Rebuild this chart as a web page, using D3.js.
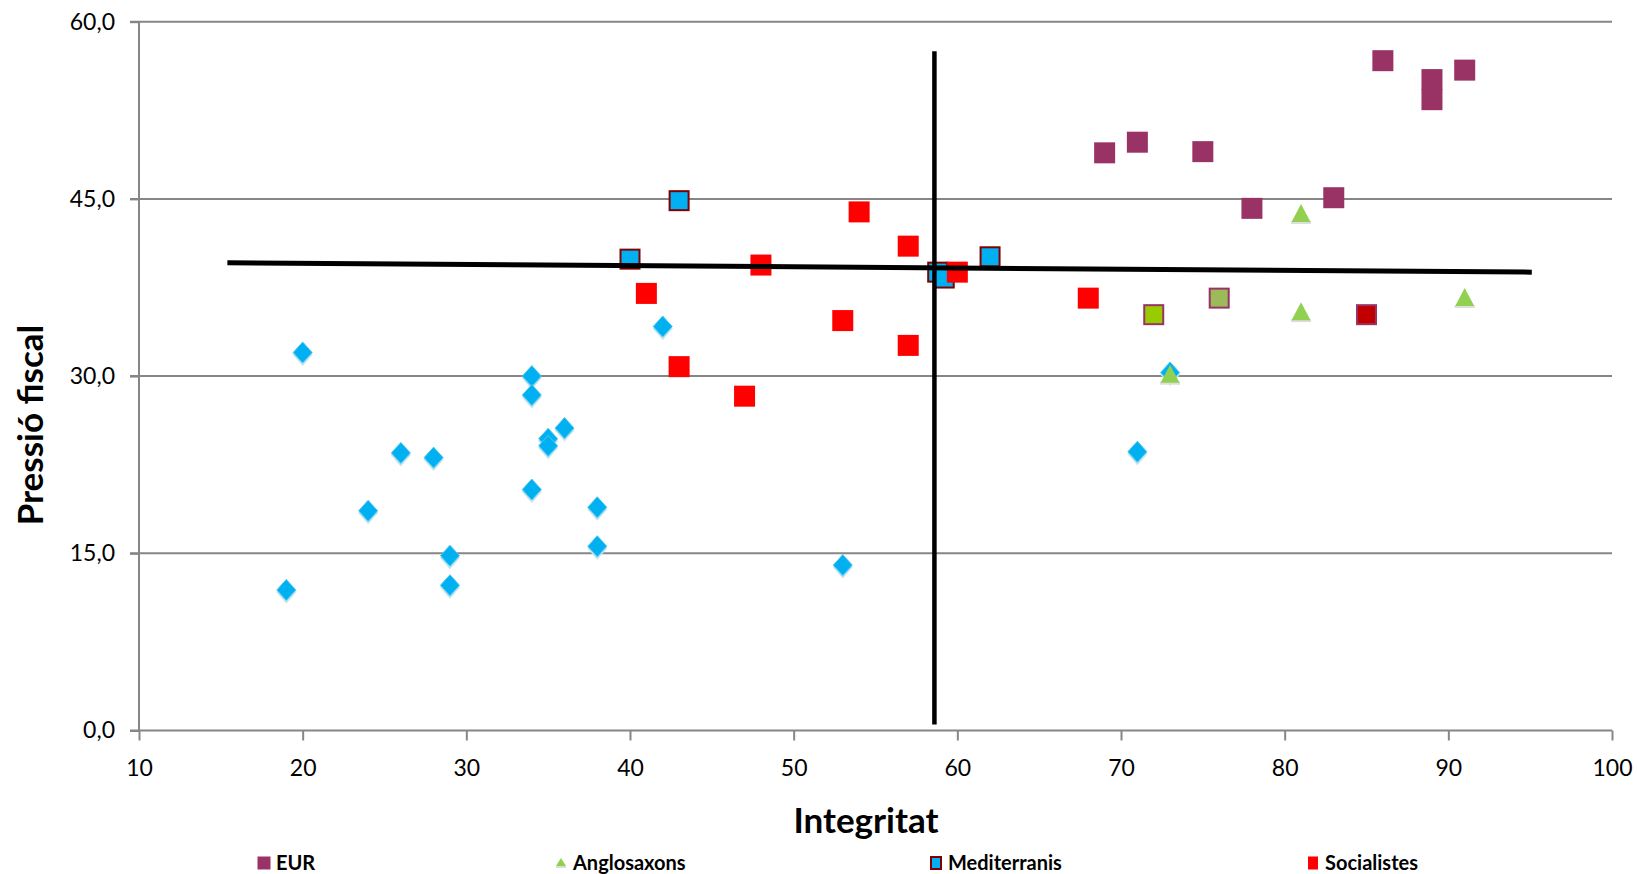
<!DOCTYPE html>
<html>
<head>
<meta charset="utf-8">
<script src="https://cdn.jsdelivr.net/npm/d3@7"></script>
<style>
  html, body { margin: 0; padding: 0; background: #fff; }
  svg { display: block; font-family: Lato, "Open Sans", sans-serif; }
</style>
</head>
<body>
<svg id="chart" width="1637" height="874"></svg>
<script>
// ---- Data ----
const xTicks = [10, 20, 30, 40, 50, 60, 70, 80, 90, 100];
const yTicks = [0, 15, 30, 45, 60];

// unlabeled series (blue diamonds)
const restaX = [19, 20, 24, 26, 28, 29, 29, 34, 34, 34, 35, 35, 36, 38, 38, 42, 53, 71, 73];
const restaY = [11.9, 32.0, 18.6, 23.5, 23.1, 14.8, 12.3, 30.0, 28.4, 20.4, 24.7, 24.1, 25.6, 18.9, 15.6, 34.2, 14.0, 23.6, 30.3];

const eurX = [69, 71, 75, 78, 83, 86, 89, 89, 91];
const eurY = [48.9, 49.8, 49.0, 44.2, 45.1, 56.7, 55.1, 53.4, 55.9];

// EUR points with individually recoloured fill
const eurSpecialX = [72, 76, 85];
const eurSpecialY = [35.2, 36.6, 35.2];

const angloX = [73, 81, 81, 91];
const angloY = [30.2, 35.5, 43.8, 36.7];

const medX = [40, 43, 58.8, 59.2, 62];
const medY = [39.9, 44.85, 38.8, 38.3, 40.1];

const socX = [41, 43, 47, 48, 53, 54, 57, 57, 60, 68];
const socY = [37.0, 30.8, 28.3, 39.4, 34.7, 43.9, 41.0, 32.6, 38.8, 36.6];

const trendX = [15.4, 95.1];
const trendY = [39.6, 38.8];

const vlineX = [58.6, 58.6];
const vlineY = [0.5, 57.5];

const legendLabels = ["EUR", "Anglosaxons", "Mediterranis", "Socialistes"];
const xTitle = "Integritat";
const yTitle = "Pressió fiscal";

// ---- Styles ----
const C = {
  grid: "#868686",
  eur: "#993366",
  anglo: "#92D050",
  med: "#00B0F0",
  medStroke: "#7F0000",
  soc: "#FF0000",
  resta: "#00B0F0",
  special: ["#99CC00", "#9BBB59", "#C00000"]
};

const svg = d3.select("#chart");
const x = d3.scaleLinear().domain([10, 100]).range([139, 1612]);
const y = d3.scaleLinear().domain([0, 60]).range([730.5, 21.7]);
const zip = (a, b) => a.map((v, i) => [v, b[i]]);

// gridlines
svg.append("g").selectAll("line").data(yTicks.filter(d => d > 0)).join("line")
  .attr("x1", x(10) - 9).attr("x2", x(100))
  .attr("y1", d => y(d)).attr("y2", d => y(d))
  .attr("stroke", C.grid).attr("stroke-width", 2);

// y axis
const yAxis = d3.axisLeft(y).tickValues(yTicks)
  .tickFormat(d => d3.format(".1f")(d).replace(".", ","))
  .tickSize(9).tickPadding(15);
const gy = svg.append("g").attr("transform", `translate(${x(10)},0)`).call(yAxis);
gy.select(".domain").attr("stroke", C.grid).attr("stroke-width", 2).attr("d", `M0,${y(60)}V${y(0)}`);
gy.selectAll(".tick line").attr("stroke", C.grid).attr("stroke-width", 2);
gy.selectAll(".tick text").attr("font-size", 23).attr("fill", "#000").attr("font-family", "Lato");

// x axis
const xAxis = d3.axisBottom(x).tickValues(xTicks).tickSize(10).tickPadding(19).tickSizeOuter(0);
const gx = svg.append("g").attr("transform", `translate(0,${y(0)})`).call(xAxis);
gx.select(".domain").attr("stroke", C.grid).attr("stroke-width", 2).attr("d", `M${x(10) - 9},0H${x(100)}`);
gx.selectAll(".tick line").attr("stroke", C.grid).attr("stroke-width", 2);
gx.selectAll(".tick text").attr("font-size", 23).attr("fill", "#000").attr("font-family", "Lato");

// titles
svg.append("text").attr("x", 866).attr("y", 833).attr("text-anchor", "middle")
  .attr("font-size", 35).attr("font-weight", "bold").text(xTitle);
svg.append("text").attr("transform", "translate(43,425) rotate(-90)").attr("text-anchor", "middle")
  .attr("font-size", 35).attr("font-weight", "bold").text(yTitle);

// markers
const S = 21;
const plot = svg.append("g");

// diamonds (with soft shadow)
const diamond = (cx, cy, w, h) => `M${cx},${cy - h}L${cx + w},${cy}L${cx},${cy + h}L${cx - w},${cy}Z`;
plot.append("g").selectAll("path").data(zip(restaX, restaY)).join("path")
  .attr("d", d => diamond(x(d[0]), y(d[1]) + 2, 10, 11.5))
  .attr("fill", "#BFE3EF");
plot.append("g").selectAll("path").data(zip(restaX, restaY)).join("path")
  .attr("d", d => diamond(x(d[0]), y(d[1]), 9.5, 10.5))
  .attr("fill", C.resta).attr("stroke", "#4FC8F2").attr("stroke-width", 1);

// EUR squares
plot.append("g").selectAll("rect").data(zip(eurX, eurY)).join("rect")
  .attr("x", d => x(d[0]) - S / 2).attr("y", d => y(d[1]) - S / 2)
  .attr("width", S).attr("height", S).attr("fill", C.eur);
plot.append("g").selectAll("rect").data(zip(eurSpecialX, eurSpecialY)).join("rect")
  .attr("x", d => x(d[0]) - S / 2 + 1).attr("y", d => y(d[1]) - S / 2 + 1)
  .attr("width", S - 2).attr("height", S - 2)
  .attr("fill", (d, i) => C.special[i]).attr("stroke", C.eur).attr("stroke-width", 2);

// Anglosaxons triangles
const tri = (cx, cy, w, h) => `M${cx},${cy - h / 2}L${cx + w / 2},${cy + h / 2}L${cx - w / 2},${cy + h / 2}Z`;
plot.append("g").selectAll("rect").data(zip(angloX, angloY)).join("rect")
  .attr("x", d => x(d[0]) - 10).attr("y", d => y(d[1]) + 8)
  .attr("width", 20).attr("height", 3).attr("fill", "#DDDDDD");
plot.append("g").selectAll("path").data(zip(angloX, angloY)).join("path")
  .attr("d", d => tri(x(d[0]), y(d[1]), 19, 18))
  .attr("fill", C.anglo);

// Mediterranis squares
plot.append("g").selectAll("rect").data(zip(medX, medY)).join("rect")
  .attr("x", d => x(d[0]) - S / 2 + 1).attr("y", d => y(d[1]) - S / 2 + 1)
  .attr("width", S - 2).attr("height", S - 2)
  .attr("fill", C.med).attr("stroke", C.medStroke).attr("stroke-width", 2);

// Socialistes squares
plot.append("g").selectAll("rect").data(zip(socX, socY)).join("rect")
  .attr("x", d => x(d[0]) - S / 2).attr("y", d => y(d[1]) - S / 2)
  .attr("width", S).attr("height", S).attr("fill", C.soc);

// lines
const line = d3.line().x(d => x(d[0])).y(d => y(d[1]));
plot.append("path").datum(zip(trendX, trendY)).attr("d", line)
  .attr("stroke", "#000").attr("stroke-width", 5).attr("fill", "none");
plot.append("path").datum(zip(vlineX, vlineY)).attr("d", line)
  .attr("stroke", "#000").attr("stroke-width", 4.5).attr("fill", "none");

// legend
const legX = [264, 561, 936, 1313];
const lg = svg.append("g");
const legY = 863;
legendLabels.forEach((lab, i) => {
  const cx = legX[i];
  if (i === 0) {
    lg.append("rect").attr("x", cx - 6.5).attr("y", legY - 6.5).attr("width", 13).attr("height", 13).attr("fill", C.eur);
  } else if (i === 1) {
    lg.append("rect").attr("x", cx - 5).attr("y", legY + 3).attr("width", 10).attr("height", 2).attr("fill", "#DDDDDD");
    lg.append("path").attr("d", tri(cx, legY - 1, 10, 8)).attr("fill", C.anglo);
  } else if (i === 2) {
    lg.append("rect").attr("x", cx - 5).attr("y", legY - 6).attr("width", 10).attr("height", 12)
      .attr("fill", C.med).attr("stroke", C.medStroke).attr("stroke-width", 2);
  } else {
    lg.append("rect").attr("x", cx - 5).attr("y", legY - 6.5).attr("width", 10).attr("height", 13).attr("fill", C.soc);
  }
  lg.append("text").attr("x", cx + 12).attr("y", legY + 7).attr("font-size", 20).attr("font-weight", "bold")
    .attr("fill", "#000").text(lab);
});
</script>
</body>
</html>
